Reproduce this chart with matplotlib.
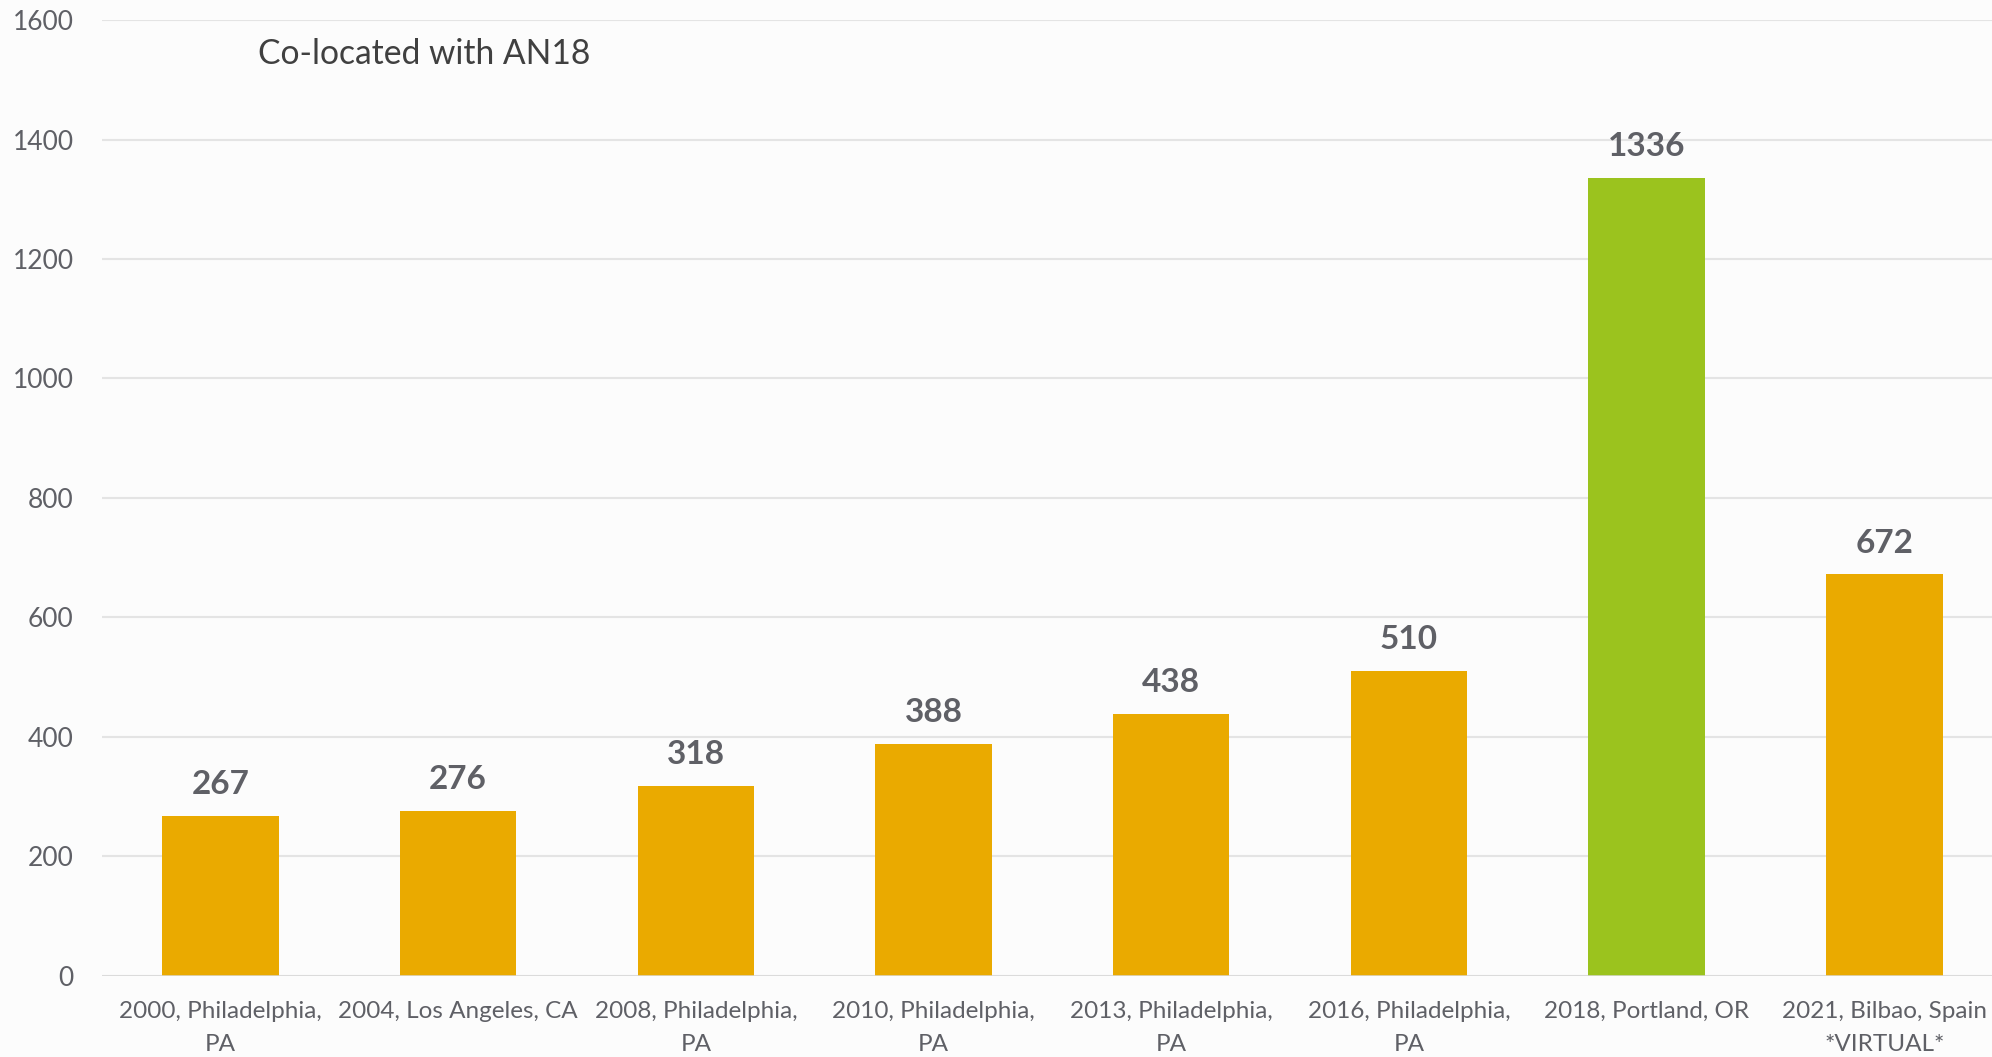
import matplotlib.pyplot as plt
import numpy as np

plt.rcParams['font.family'] = ['Lato', 'DejaVu Sans']

categories = ["2000, Philadelphia,\nPA", "2004, Los Angeles, CA", "2008, Philadelphia,\nPA",
              "2010, Philadelphia,\nPA", "2013, Philadelphia,\nPA", "2016, Philadelphia,\nPA",
              "2018, Portland, OR", "2021, Bilbao, Spain\n*VIRTUAL*"]
attendance = [267, 276, 318, 388, 438, 510, 1336, 672]
highlight = "2018, Portland, OR"
yticks = [0, 200, 400, 600, 800, 1000, 1200, 1400, 1600]

orange = "#EAAA00"
green = "#9BC31E"
grey = "#5F6066"

fig = plt.figure(figsize=(19.92, 10.57), dpi=100)
fig.patch.set_facecolor("#FCFCFC")
ax = fig.add_axes([0.051, 0.077, 0.949, 0.904])
ax.set_facecolor("#FCFCFC")

x = np.arange(len(categories))
colors = [green if c == highlight else orange for c in categories]
bars = ax.bar(x, attendance, width=0.49, color=colors, zorder=3)

for b, v in zip(bars, attendance):
    ax.annotate(str(v), (b.get_x() + b.get_width() / 2, v), xytext=(0, 12),
                textcoords="offset points", ha="center", va="bottom",
                fontsize=24, fontweight="bold", color=grey)

# categories run slightly past the right edge, as in the original
ax.set_xlim(-0.5, len(categories) - 0.547)
ax.set_ylim(0, 1600)
ax.set_yticks(yticks)
ax.set_xticks(x)
ax.set_xticklabels(categories, linespacing=1.7)
ax.grid(axis="y", color="#E4E4E4", linewidth=1.5, zorder=0)
ax.tick_params(axis="both", length=0, labelsize=17.5, colors=grey)
ax.tick_params(axis="x", pad=18)
ax.tick_params(axis="y", pad=20, labelsize=19)
for s in ax.spines.values():
    s.set_visible(False)
ax.axhline(0, color="#D9D9D9", linewidth=1.8, zorder=4)

ax.text(0.083, 0.965, "Co-located with AN18", transform=ax.transAxes,
        fontsize=24.2, color="#404040", va="center", ha="left")

fig.savefig("out.png", dpi=100, facecolor=fig.get_facecolor())
